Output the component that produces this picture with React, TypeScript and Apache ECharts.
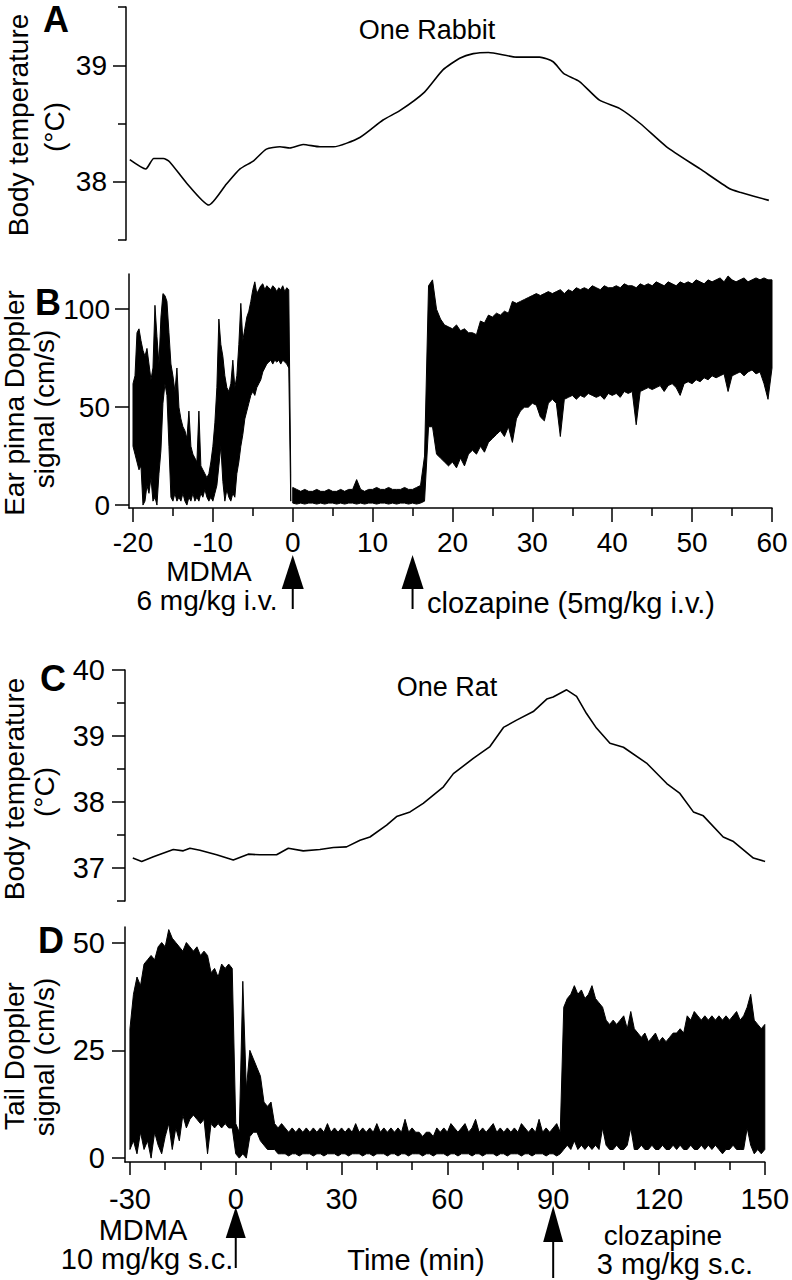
import React, { useEffect, useRef } from "react";
import * as echarts from "echarts";

const FONT = '"Liberation Sans", Arial, Helvetica, sans-serif';

// ---------- Panel A : rabbit body temperature ----------
const rabbitTempTime = [-20.4, -18.4, -17.4, -16.2, -15.4, -13.3, -10.5, -8.3, -6.6, -4.9, -3.3, -1.6, -0.35, 1.3, 3.4, 5.1, 8.4, 11.3, 13.4, 16.5, 18.8, 20.9, 22.6, 24.5, 28.0, 30.9, 32.6, 33.9, 35.9, 38.4, 40.9, 43.5, 46.8, 51.0, 54.7, 56.0, 59.6];
const rabbitTemp = [38.19, 38.11, 38.2, 38.2, 38.17, 37.99, 37.8, 37.98, 38.11, 38.18, 38.28, 38.3, 38.29, 38.32, 38.3, 38.3, 38.38, 38.53, 38.61, 38.77, 38.96, 39.06, 39.1, 39.11, 39.07, 39.07, 39.03, 38.93, 38.86, 38.7, 38.63, 38.5, 38.3, 38.11, 37.94, 37.91, 37.84];

// ---------- Panel B : rabbit ear pinna Doppler (min/max envelope per bin) ----------
const rabbitPreStart = -20;
const rabbitPreStep = 0.25;
const rabbitPreHigh = [62, 66, 88, 90, 84, 79, 76, 80, 72, 64, 70, 102, 86, 72, 96, 108, 107, 104, 88, 72, 66, 58, 70, 50, 44, 40, 38, 34, 48, 30, 26, 24, 22, 48, 20, 18, 16, 14, 16, 22, 30, 42, 60, 95, 82, 76, 66, 60, 58, 62, 74, 60, 66, 82, 103, 84, 90, 96, 99, 104, 110, 114, 108, 110, 112, 113, 110, 112, 111, 110, 112, 111, 109, 111, 110, 112, 109, 111, 110, 16];
const rabbitPreLow = [30, 26, 22, 18, 20, 0, 2, 10, 6, 14, 2, 4, 0, 16, 28, 52, 62, 56, 30, 4, 2, 6, 2, 4, 2, 6, 2, 0, 4, 2, 6, 2, 4, 2, 6, 4, 8, 4, 2, 4, 2, 6, 10, 20, 30, 12, 2, 8, 4, 2, 6, 4, 16, 22, 30, 36, 44, 48, 52, 56, 58, 56, 60, 62, 64, 68, 70, 72, 73, 74, 72, 74, 73, 74, 72, 74, 73, 72, 70, 2];
const rabbitPostStart = 0;
const rabbitPostStep = 0.5;
const rabbitPostHigh = [9, 8, 7, 8, 7, 7, 8, 7, 7, 8, 7, 7, 8, 7, 8, 8, 13, 8, 7, 8, 8, 9, 8, 8, 9, 8, 8, 8, 9, 8, 8, 9, 10,
  25, 112, 115, 100, 95, 92, 91, 90, 92, 89, 90, 88, 88, 87, 94, 93, 97, 96, 98, 97, 99, 98, 104, 103, 104, 105, 106, 107, 108, 107, 108, 109, 108, 109, 110, 108, 110, 109, 111, 110, 111, 110, 112, 111, 110, 112, 111, 111, 112, 111, 113, 112, 112, 111, 113, 112, 113, 112, 114, 113, 112, 114, 113, 112, 114, 113, 114, 113, 115, 114, 113, 115, 114, 115, 116, 114, 117, 115, 114, 115, 116, 114, 115, 116, 115, 116, 115, 115];
const rabbitPostLow = [1, 0.5, 1, 0.5, 1, 1, 0.5, 1, 0.5, 1, 1, 0.5, 1, 0.5, 1, 1, 0.5, 1, 0.5, 1, 1, 0.5, 1, 1, 0.5, 1, 0.5, 1, 1, 0.5, 1, 0.5, 1,
  2, 40, 40, 26, 24, 22, 20, 22, 19, 24, 20, 26, 28, 26, 30, 27, 32, 34, 36, 38, 35, 40, 32, 44, 48, 50, 50, 52, 51, 45, 43, 52, 54, 52, 35, 54, 55, 56, 54, 56, 55, 57, 56, 55, 56, 54, 57, 56, 57, 55, 58, 57, 58, 41, 58, 59, 60, 59, 60, 61, 58, 61, 62, 60, 56, 62, 63, 62, 64, 63, 65, 64, 66, 65, 66, 67, 58, 66, 67, 68, 66, 68, 69, 67, 68, 62, 54, 70];

// ---------- Panel C : rat body temperature ----------
const ratTempTime = [-29.2, -26.7, -23.4, -17.8, -15.0, -13.1, -10.3, -5.6, -0.9, 3.3, 6.6, 11.3, 14.6, 18.8, 23.5, 27.3, 31.0, 34.8, 37.6, 42.3, 45.1, 48.9, 52.6, 58.3, 61.1, 66.7, 71.4, 75.2, 78.9, 83.6, 87.4, 89.2, 93.0, 95.8, 98.6, 101.4, 105.2, 109.0, 115.5, 121.2, 124.9, 128.7, 131.5, 137.1, 140.0, 145.6, 148.9];
const ratTemp = [37.15, 37.1, 37.17, 37.28, 37.26, 37.3, 37.27, 37.2, 37.12, 37.21, 37.2, 37.2, 37.3, 37.26, 37.28, 37.31, 37.32, 37.42, 37.47, 37.65, 37.78, 37.85, 37.98, 38.23, 38.43, 38.66, 38.84, 39.13, 39.24, 39.37, 39.56, 39.59, 39.7, 39.6, 39.34, 39.12, 38.89, 38.83, 38.59, 38.28, 38.13, 37.85, 37.79, 37.47, 37.4, 37.15, 37.1];

// ---------- Panel D : rat tail Doppler (min/max envelope per minute) ----------
const ratDopStart = -30;
const ratDopStep = 1;
const ratDopHigh = [30, 38, 42, 40, 45, 46, 47, 46, 49, 50, 49, 53, 51, 50, 49, 48, 50, 49, 48, 49, 47, 48, 47, 43, 44, 42, 45, 44, 45, 44,
  8, 6, 41, 16, 25, 23, 21, 19, 13, 12, 13, 8, 7, 8,
  7, 6, 7, 6, 7, 6, 7, 6, 7, 6, 7, 6, 8, 6, 7, 6, 7, 6, 7, 6, 8, 6, 7, 6, 7, 6, 8, 6, 7, 6, 7, 6, 7, 6, 9, 6, 7, 6, 6, 5, 6, 6, 5, 7, 6, 7, 6, 8, 7, 6, 7, 8, 6, 7, 9, 6, 7, 6, 7, 8, 6, 7, 6, 7, 6, 7, 6, 8, 7, 6, 7, 6, 9, 6, 7, 6, 7, 8, 6,
  35, 37, 38, 40, 38, 39, 37, 38, 40, 37, 36, 35, 32, 31, 32, 31, 32, 33, 30, 34, 30, 29, 28, 29, 27, 28, 29, 27, 28, 27, 28, 29, 29, 30, 29, 33, 32, 34, 33, 32, 33, 32, 33, 32, 33, 32, 33, 32, 33, 34, 32, 33, 35, 38, 32, 31, 30, 31];
const ratDopLow = [2, 4, 1, 6, 2, 4, 0, 6, 3, 1, 5, 8, 2, 7, 4, 10, 7, 9, 10, 9, 8, 9, 1, 8, 7, 8, 7, 8, 7, 7,
  1, 0, 1, 0, 5, 6, 6, 4, 3, 2, 2, 2, 1, 1,
  1, 0.5, 1, 1, 0.5, 1, 1, 1, 0.5, 1, 1, 0.5, 1, 1, 1, 0.5, 1, 1, 0.5, 1, 1, 1, 0.5, 1, 1, 0.5, 1, 1, 1, 0.5, 1, 1, 0.5, 1, 1, 0.5, 1, 1, 1, 0.5, 1, 1, 0.5, 1, 1, 1, 0.5, 1, 1, 0.5, 1, 1, 1, 0.5, 1, 1, 0.5, 1, 1, 1, 0.5, 1, 1, 0.5, 1, 1, 1, 0.5, 1, 1, 0.5, 1, 1, 1, 0.5, 1, 1, 0.5, 1,
  2, 3, 2, 4, 2, 3, 2, 3, 2, 3, 2, 7, 3, 2, 2, 3, 2, 2, 3, 7, 2, 2, 3, 2, 2, 3, 2, 2, 3, 2, 2, 3, 2, 3, 2, 2, 3, 2, 2, 3, 2, 3, 2, 3, 2, 1, 2, 2, 3, 2, 2, 2, 7, 3, 1, 2, 1, 2];

// ---------- ticks ----------
const rabbitXTicks = [-20, -10, 0, 10, 20, 30, 40, 50, 60];
const rabbitXMinor = [-15, -5, 5, 15, 25, 35, 45, 55];
const rabbitTempTicks = [38, 39];
const rabbitTempMinor = [37.5, 38.5, 39.5];
const rabbitDopTicks = [0, 50, 100];
const ratXTicks = [-30, 0, 30, 60, 90, 120, 150];
const ratXMinor = [-20, -10, 10, 20, 40, 50, 70, 80, 100, 110, 130, 140];
const ratTempTicks = [37, 38, 39, 40];
const ratTempMinor = [36.5, 37.5, 38.5, 39.5];
const ratDopTicks = [0, 25, 50];

// dose times
const rabbitMdmaTime = 0;
const rabbitClozTime = 15;
const ratMdmaTime = 0;
const ratClozTime = 90;

const toBand = (start: number, step: number, lo: number[], hi: number[]) =>
  hi.map((h, i) => [start + i * step, lo[i], h]);

const zip = (a: number[], b: number[]) => a.map((v, i) => [v, b[i]]);

const LINE = { color: "#000", width: 1.5 };

// envelope drawn as one filled polygon through the library's coordinate system
const bandSeries = (xi: number, yi: number, data: number[][]) => ({
  type: "custom",
  coordinateSystem: "cartesian2d",
  xAxisIndex: xi,
  yAxisIndex: yi,
  data,
  encode: { x: 0, y: [1, 2] },
  clip: false,
  silent: true,
  renderItem: (params: any, api: any) => {
    if (params.dataIndex !== 0) return null;
    const top = data.map((d) => api.coord([d[0], d[2]]));
    const bottom = data.map((d) => api.coord([d[0], d[1]])).reverse();
    return {
      type: "polygon",
      shape: { points: top.concat(bottom) },
      style: { fill: "#000", stroke: "#000", lineWidth: 1 },
    };
  },
});

const mainAxis = (grid: number, min: number, max: number, ticks: number[], len: number, size: number, margin: number, extra: any = {}) => ({
  gridIndex: grid,
  type: "value",
  min,
  max,
  axisLine: { show: true, onZero: false, lineStyle: LINE },
  axisTick: { show: true, customValues: ticks, length: len, lineStyle: LINE },
  axisLabel: { show: true, customValues: ticks, color: "#000", fontSize: size, fontFamily: FONT, margin },
  splitLine: { show: false },
  ...extra,
});

const minorAxis = (grid: number, min: number, max: number, ticks: number[], extra: any = {}) => ({
  gridIndex: grid,
  type: "value",
  min,
  max,
  axisLine: { show: false, onZero: false },
  axisTick: { show: true, customValues: ticks, length: 8, lineStyle: LINE },
  axisLabel: { show: false },
  splitLine: { show: false },
  ...extra,
});

const hiddenAxis = (grid: number, min: number, max: number) => ({
  gridIndex: grid,
  type: "value",
  min,
  max,
  show: false,
  splitLine: { show: false },
});

const RX = [-20.5, 60];
const TX = [-31.4, 150];

const option: any = {
  animation: false,
  backgroundColor: "#fff",
  grid: [
    { left: 129, width: 643, top: 7, height: 233 },
    { left: 129, width: 643, top: 274, height: 234 },
    { left: 125, width: 644, top: 670, height: 231 },
    { left: 125, width: 644, top: 927, height: 235 },
  ],
  xAxis: [
    hiddenAxis(0, RX[0], RX[1]),
    mainAxis(1, RX[0], RX[1], rabbitXTicks, 14, 28, 20, { position: "bottom" }),
    minorAxis(1, RX[0], RX[1], rabbitXMinor, { position: "bottom" }),
    hiddenAxis(2, TX[0], TX[1]),
    mainAxis(3, TX[0], TX[1], ratXTicks, 13, 29, 22, { position: "bottom" }),
    minorAxis(3, TX[0], TX[1], ratXMinor, { position: "bottom" }),
  ],
  yAxis: [
    mainAxis(0, 37.5, 39.5, rabbitTempTicks, 13, 28, 19, { position: "left", offset: 3 }),
    minorAxis(0, 37.5, 39.5, rabbitTempMinor, { position: "left", offset: 3 }),
    mainAxis(1, -1.5, 118, rabbitDopTicks, 14, 28, 19, { position: "left" }),
    mainAxis(2, 36.5, 40, ratTempTicks, 13, 29, 20, { position: "left" }),
    minorAxis(2, 36.5, 40, ratTempMinor, { position: "left" }),
    mainAxis(3, -0.9, 53.6, ratDopTicks, 13, 29, 20, { position: "left" }),
  ],
  series: [
    {
      type: "line",
      xAxisIndex: 0,
      yAxisIndex: 0,
      data: zip(rabbitTempTime, rabbitTemp),
      symbol: "none",
      smooth: 0.2,
      lineStyle: { color: "#000", width: 1.6 },
      silent: true,
    },
    bandSeries(1, 2, toBand(rabbitPreStart, rabbitPreStep, rabbitPreLow, rabbitPreHigh)),
    bandSeries(1, 2, toBand(rabbitPostStart, rabbitPostStep, rabbitPostLow, rabbitPostHigh)),
    {
      type: "line",
      xAxisIndex: 3,
      yAxisIndex: 3,
      data: zip(ratTempTime, ratTemp),
      symbol: "none",
      lineStyle: { color: "#000", width: 1.6 },
      silent: true,
    },
    bandSeries(4, 5, toBand(ratDopStart, ratDopStep, ratDopLow, ratDopHigh)),
  ],
};

const text = (t: string, x: number, y: number, size: number, opts: any = {}) => ({
  type: "text",
  x,
  y,
  rotation: opts.rotate ? Math.PI / 2 : 0,
  silent: true,
  style: {
    text: t,
    fontSize: size,
    fontFamily: FONT,
    fontWeight: opts.bold ? "bold" : "normal",
    fill: "#000",
    textAlign: opts.align || "center",
    textVerticalAlign: "middle",
  },
});

const arrow = (x: number, top: number, base: number, bottom: number, half: number) => [
  { type: "polygon", silent: true, shape: { points: [[x, top], [x - half, base], [x + half, base]] }, style: { fill: "#000" } },
  { type: "line", silent: true, shape: { x1: x, y1: base, x2: x, y2: bottom }, style: { stroke: "#000", lineWidth: 2 } },
];

export default function App() {
  const ref = useRef<HTMLDivElement>(null);
  useEffect(() => {
    if (!ref.current) return;
    const chart = echarts.init(ref.current, null, { renderer: "svg" });
    chart.setOption(option);
    const px = (xAxisIndex: number, v: number) => chart.convertToPixel({ xAxisIndex } as any, v) as number;
    const graphic: any[] = [
      text("A", 43, 19, 36, { bold: true, align: "left" }),
      text("B", 35, 302, 36, { bold: true, align: "left" }),
      text("C", 40, 678, 36, { bold: true, align: "left" }),
      text("D", 38, 940, 36, { bold: true, align: "left" }),
      text("Body temperature", 18, 125, 28, { rotate: true }),
      text("(°C)", 54, 127, 28, { rotate: true }),
      text("Ear pinna Doppler", 14, 403, 28, { rotate: true }),
      text("signal (cm/s)", 44, 409, 28, { rotate: true }),
      text("Body temperature", 14, 789, 28, { rotate: true }),
      text("(°C)", 44, 792, 28, { rotate: true }),
      text("Tail Doppler", 14, 1056, 28, { rotate: true }),
      text("signal (cm/s)", 44, 1057, 28, { rotate: true }),
      text("One Rabbit", 427, 30, 27),
      text("One Rat", 447, 687, 27),
      text("MDMA", 209, 571, 28),
      text("6 mg/kg i.v.", 207, 600, 28),
      text("clozapine (5mg/kg i.v.)", 427, 603, 29, { align: "left" }),
      text("MDMA", 143, 1230, 29),
      text("10 mg/kg s.c.", 147, 1259, 29),
      text("Time (min)", 416, 1260, 29),
      text("clozapine", 663, 1235, 28),
      text("3 mg/kg s.c.", 675, 1264, 29),
      ...arrow(px(1, rabbitMdmaTime), 555, 589, 609, 11),
      ...arrow(px(1, rabbitClozTime), 555, 589, 609, 11),
      ...arrow(px(4, ratMdmaTime), 1207, 1238, 1268, 10),
      ...arrow(px(4, ratClozTime), 1206, 1242, 1278, 10),
    ];
    chart.setOption({ graphic });
    return () => chart.dispose();
  }, []);
  return (
    <div
      ref={ref}
      style={{ position: "absolute", left: 0, top: 0, width: 792, height: 1280, background: "#fff" }}
    />
  );
}
